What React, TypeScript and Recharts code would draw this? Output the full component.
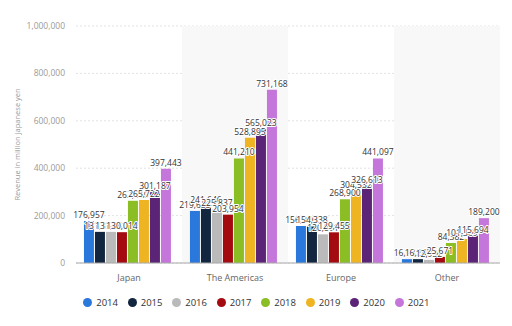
import React from "react";
import {
  Bar,
  BarChart,
  CartesianGrid,
  Label,
  LabelList,
  Legend,
  ReferenceArea,
  XAxis,
  YAxis,
} from "recharts";

const categories = ["Japan", "The Americas", "Europe", "Other"];
const years = ["2014", "2015", "2016", "2017", "2018", "2019", "2020", "2021"];
const colors = ["#2a78dc", "#12263f", "#bababa", "#a30b10", "#8bbd24", "#efb422", "#5b2477", "#c576da"];

const v2014 = [176957, 219633, 156046, 16181];
const v2015 = [131354, 241646, 154338, 16245];
const v2016 = [131461, 225837, 120861, 12932];
const v2017 = [130014, 203954, 129455, 25671];
const v2018 = [262510, 441210, 268900, 84382];
const v2019 = [265722, 528895, 304532, 101369];
const v2020 = [301187, 565023, 326613, 115694];
const v2021 = [397443, 731168, 441097, 189200];
const yTicks = [0, 200000, 400000, 600000, 800000, 1000000];

const seriesValues = [v2014, v2015, v2016, v2017, v2018, v2019, v2020, v2021];
const shaded = ["The Americas", "Other"];

const data = categories.map((name, i) => {
  const row: Record<string, string | number> = { name };
  years.forEach((y, j) => {
    row[y] = seriesValues[j][i];
  });
  return row;
});

const FONT = "'Open Sans', 'DejaVu Sans', sans-serif";
const fmt = (v: number) => v.toLocaleString("en-US");

function BarLabel(props: any) {
  const { x, y, width, value } = props;
  return (
    <text
      x={Number(x) + Number(width) / 2}
      y={Number(y) - 3}
      textAnchor="middle"
      fontSize={8.5}
      fontFamily={FONT}
      fill="#333"
      stroke="#fff"
      strokeWidth={2}
      strokeLinejoin="round"
      paintOrder="stroke"
    >
      {fmt(Number(value))}
    </text>
  );
}

function YearLegend() {
  return (
    <div style={{ display: "flex", justifyContent: "center", gap: 10.5, fontFamily: FONT, paddingTop: 8 }}>
      {years.map((y, i) => (
        <div key={y} style={{ display: "flex", alignItems: "center", gap: 4 }}>
          <span style={{ width: 9, height: 9, borderRadius: "50%", background: colors[i], display: "inline-block" }} />
          <span style={{ fontSize: 9.5, color: "#333", width: 21 }}>{y}</span>
        </div>
      ))}
    </div>
  );
}

export default function App() {
  return (
    <div style={{ position: "absolute", left: 0, top: 0, width: 512, height: 326, background: "#fff" }}>
      <BarChart
        width={512}
        height={326}
        data={data}
        margin={{ top: 26, right: 12, left: 0, bottom: 14 }}
        barCategoryGap="7.5%"
        barGap={1}
      >
        {shaded.map((c) => (
          <ReferenceArea key={c} x1={c} x2={c} fill="#f8f8f8" fillOpacity={1} stroke="none" />
        ))}
        <CartesianGrid vertical={false} stroke="#e3e3e3" strokeDasharray="2 2" />
        <XAxis
          dataKey="name"
          height={25}
          tickLine={false}
          axisLine={{ stroke: "#a8a8a8" }}
          tickMargin={6}
          tick={{ fill: "#666", fontSize: 9, fontFamily: FONT }}
        />
        <YAxis
          width={76}
          domain={[0, 1000000]}
          ticks={yTicks}
          tickFormatter={fmt}
          axisLine={false}
          tickLine={false}
          tickMargin={5}
          tick={{ fill: "#9a9a9a", fontSize: 8.5, fontFamily: FONT }}
        >
          <Label
            content={(p: any) => {
              const vb = p.viewBox || { y: 26, height: 237 };
              const cy = vb.y + vb.height / 2;
              return (
                <text
                  x={20}
                  y={cy}
                  transform={`rotate(-90, 20, ${cy})`}
                  textAnchor="middle"
                  fontSize={7.5}
                  fontFamily={FONT}
                  fill="#999"
                >
                  Revenue in million Japanese yen
                </text>
              );
            }}
          />
        </YAxis>
        <Legend verticalAlign="bottom" height={24} wrapperStyle={{ left: 0, width: 512 }} content={<YearLegend />} />
        {years.map((y, i) => (
          <Bar key={y} dataKey={y} fill={colors[i]} isAnimationActive={false}>
            <LabelList dataKey={y} content={<BarLabel />} />
          </Bar>
        ))}
      </BarChart>
    </div>
  );
}
